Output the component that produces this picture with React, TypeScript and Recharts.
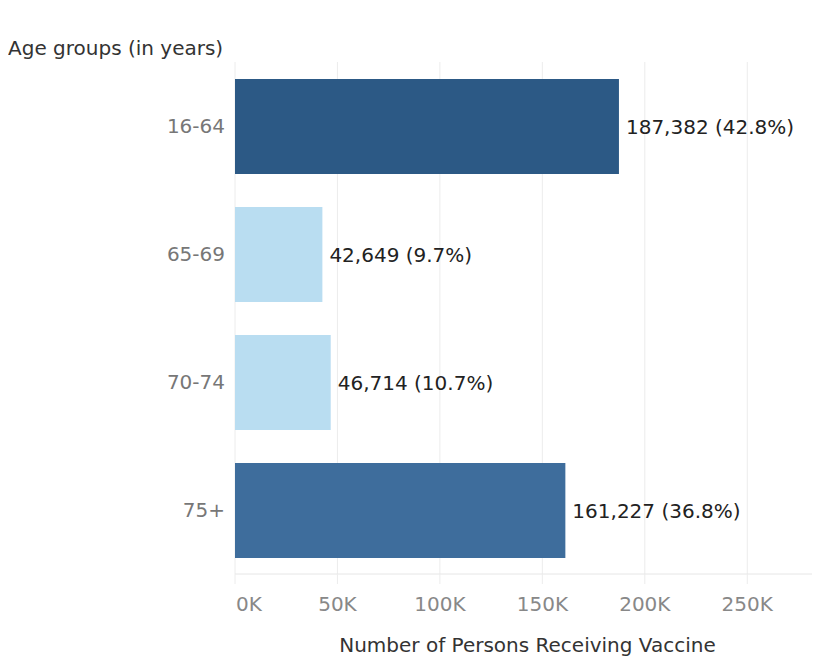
import React from "react";
import { BarChart, Bar, XAxis, YAxis, CartesianGrid, Cell, LabelList } from "recharts";

const ageGroups = ["16-64", "65-69", "70-74", "75+"];
const persons = [187382, 42649, 46714, 161227];
const shares = ["42.8%", "9.7%", "10.7%", "36.8%"];
const barColors = ["#2c5985", "#b9ddf1", "#b9ddf1", "#3e6d9c"];
const xTicks = [0, 50000, 100000, 150000, 200000, 250000];

const data = ageGroups.map((g, i) => ({
  group: g,
  value: persons[i],
  label: `${persons[i].toLocaleString("en-US")} (${shares[i]})`,
}));

const FONT = "'DejaVu Sans', sans-serif";

const XTick = (props: any) => {
  const { x, y, payload } = props;
  const first = payload.value === 0;
  return (
    <text
      x={first ? x + 1 : x}
      y={y}
      dy="0.71em"
      textAnchor={first ? "start" : "middle"}
      fill="#888"
      fontSize={20}
      fontFamily={FONT}
    >
      {`${payload.value / 1000}K`}
    </text>
  );
};

export default function App() {
  return (
    <div style={{ position: "relative", width: 812, height: 649, fontFamily: FONT }}>
      <div
        style={{
          position: "absolute",
          left: 0,
          top: 30,
          fontSize: 20,
          lineHeight: "20px",
          color: "#333",
          fontFamily: FONT,
          whiteSpace: "nowrap",
        }}
      >
        Age groups (in years)
      </div>
      <BarChart
        width={812}
        height={649}
        data={data}
        layout="vertical"
        margin={{ top: 54, right: 0, bottom: 0, left: 0 }}
      >
        <CartesianGrid horizontal={false} vertical={true} stroke="#ececec" />
        <XAxis
          type="number"
          domain={[0, 285500]}
          ticks={xTicks}
          allowDataOverflow
          tick={<XTick />}
          tickSize={10}
          tickMargin={13}
          tickLine={{ stroke: "#ececec" }}
          axisLine={{ stroke: "#e6e6e6" }}
          height={83}
          label={{
            value: "Number of Persons Receiving Vaccine",
            position: "insideBottom",
            offset: 5,
            fill: "#333",
            fontSize: 20,
            fontFamily: FONT,
          }}
        />
        <YAxis
          type="category"
          dataKey="group"
          width={227}
          axisLine={false}
          tickLine={false}
          tickSize={0}
          tickMargin={10}
          tick={{ fill: "#777", fontSize: 20, fontFamily: FONT }}
        />
        <Bar dataKey="value" barSize={95} isAnimationActive={false}>
          {data.map((d, i) => (
            <Cell key={d.group} fill={barColors[i]} />
          ))}
          <LabelList
            dataKey="label"
            position="right"
            offset={7}
            fill="#222"
            fontSize={20}
            fontFamily={FONT}
          />
        </Bar>
      </BarChart>
    </div>
  );
}
